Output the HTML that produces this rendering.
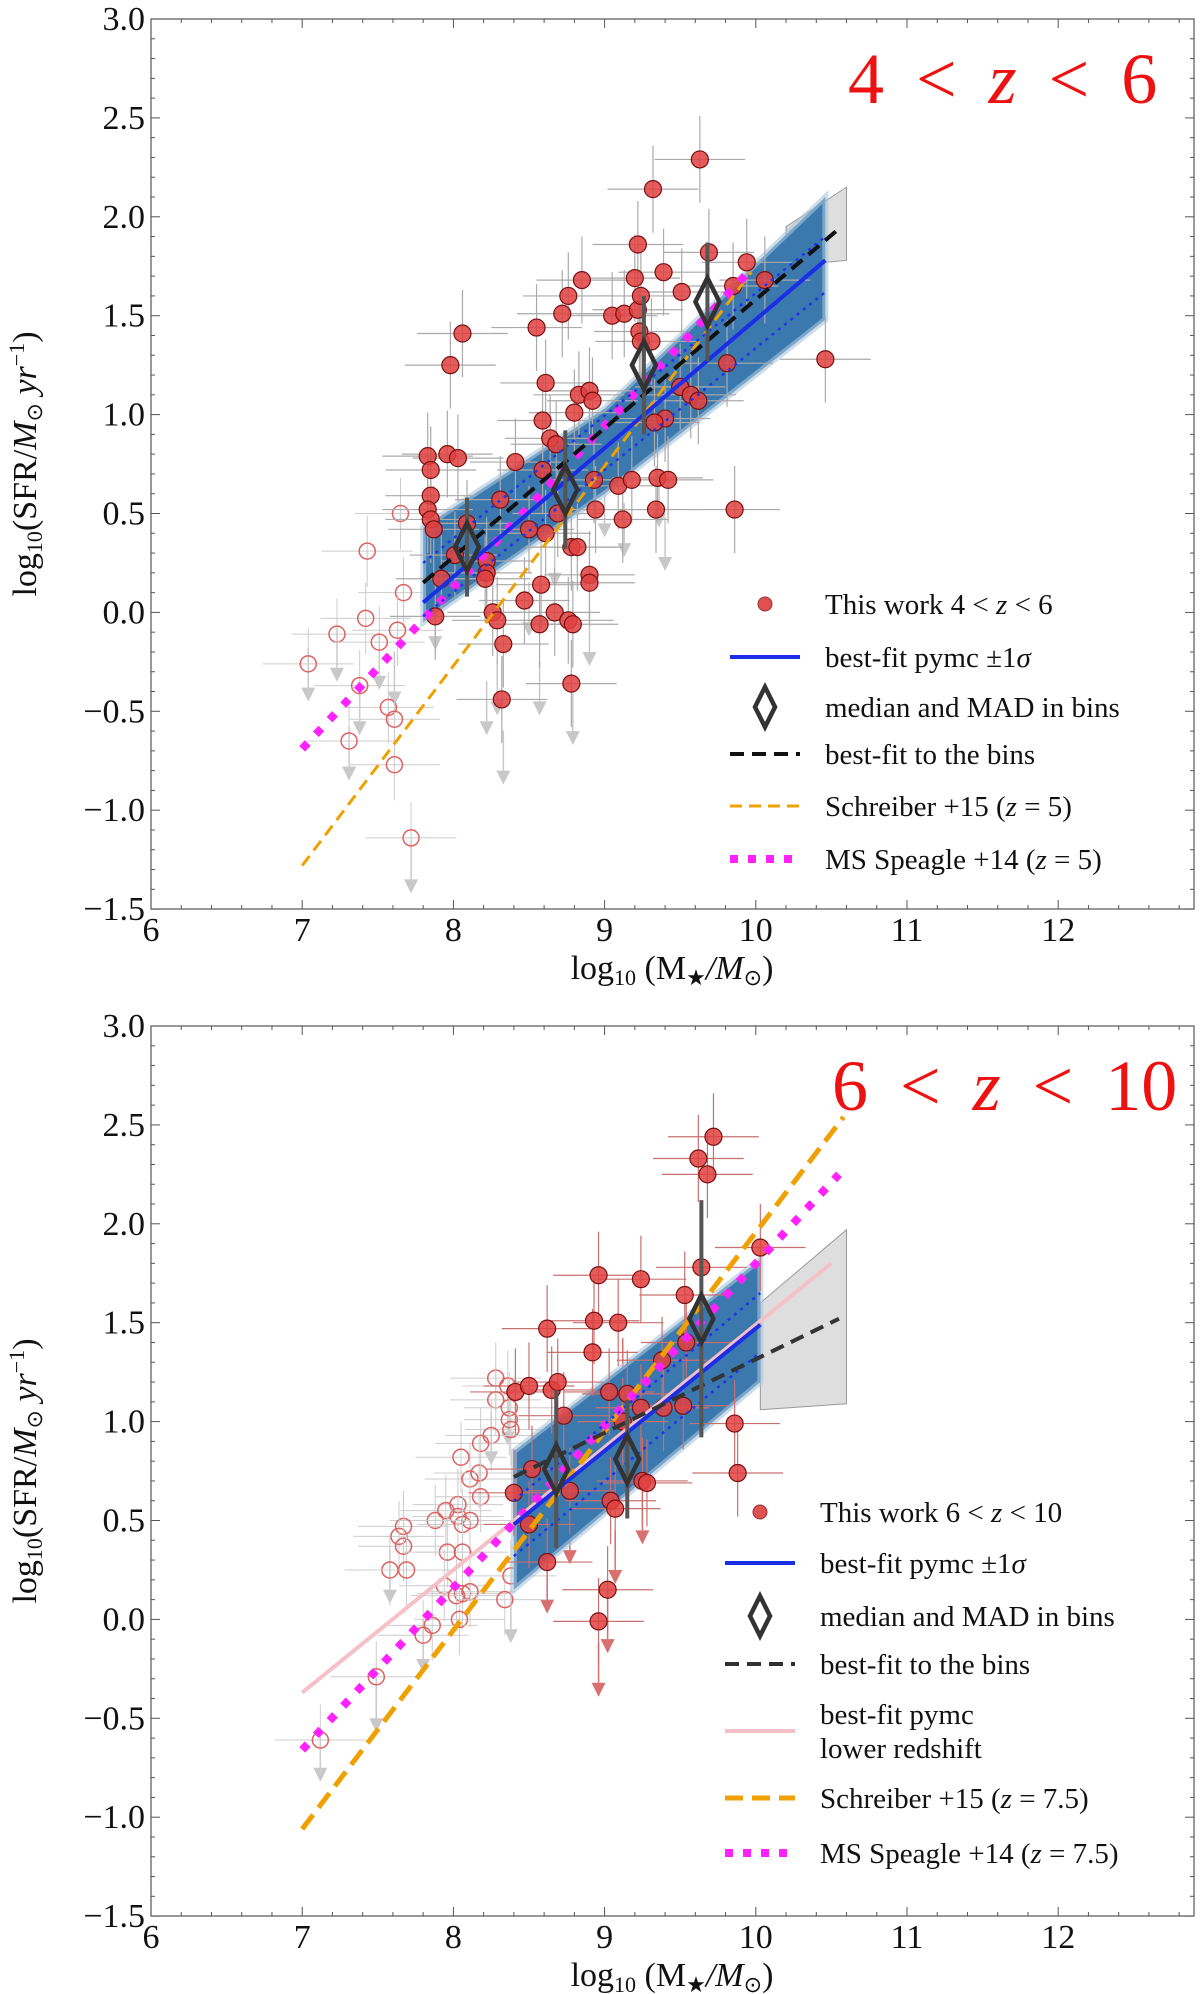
<!DOCTYPE html>
<html><head><meta charset="utf-8"><style>
body{margin:0;background:#fff;}
svg{display:block;font-family:"Liberation Serif",serif;}
</style></head><body>
<svg id="chart" width="1200" height="1994" viewBox="0 0 1200 1994" xmlns="http://www.w3.org/2000/svg"></svg>
<script>
// ---- Panel 1 data (4<z<6) ----
const p1RedX=[9.63,9.32,9.22,9.69,9.94,8.85,9.20,9.39,10.06,9.51,9.85,8.72,8.76,9.05,9.13,9.22,9.24,8.55,8.06,9.23,9.24,9.31,7.98,9.81,10.46,8.61,9.50,9.57,9.62,8.83,8.90,8.80,8.92,9.40,9.33,8.59,8.64,8.68,7.83,7.96,8.03,7.85,8.41,8.59,8.93,9.09,9.18,9.35,9.42,7.85,8.31,8.94,9.34,9.86,7.83,7.85,7.87,8.09,8.50,8.61,8.69,9.12,8.78,8.82,8.22,8.01,8.22,8.21,8.58,8.90,8.90,7.92,8.47,7.88,8.26,8.29,8.67,8.57,8.76,8.79,8.33,8.78,8.32];
const p1RedY=[2.29,2.14,1.86,1.82,1.77,1.68,1.69,1.72,1.68,1.62,1.65,1.51,1.60,1.50,1.51,1.53,1.60,1.44,1.41,1.42,1.37,1.37,1.25,1.26,1.28,1.16,1.14,1.10,1.07,1.10,1.12,1.01,1.07,0.98,0.96,0.97,0.88,0.85,0.79,0.80,0.78,0.72,0.76,0.72,0.67,0.64,0.67,0.68,0.67,0.59,0.57,0.52,0.52,0.52,0.52,0.47,0.42,0.45,0.42,0.40,0.50,0.47,0.33,0.33,0.26,0.29,0.20,0.17,0.14,0.19,0.15,0.17,0.06,-0.02,0.00,-0.04,0.00,-0.06,-0.04,-0.06,-0.16,-0.36,-0.44];
const p1OpenX=[7.65,7.43,7.67,7.23,7.42,7.51,7.63,7.04,7.38,7.57,7.61,7.31,7.61,7.72];
const p1OpenY=[0.50,0.31,0.10,-0.11,-0.03,-0.15,-0.09,-0.26,-0.37,-0.48,-0.54,-0.65,-0.77,-1.14];
const p1ArrX=[7.04,7.23,7.31,7.38,7.51,7.61,7.72,7.88,8.22,8.29,8.33,8.57,8.79,8.90,8.50,9.13,9.40,9.36,8.67,9.00];
const p1ArrY=[-0.38,-0.28,-0.78,-0.55,-0.32,-0.4,-1.35,-0.12,-0.55,-0.45,-0.8,-0.45,-0.6,-0.2,-0.05,0.35,0.28,0.5,0.2,0.45];
const p1DiaX=[8.09,8.74,9.26,9.68];
const p1DiaY=[0.33,0.62,1.25,1.57];
const p1DiaErr=[0.25,0.3,0.35,0.3];
// ---- Panel 2 data (6<z<10) ----
const p2RedX=[9.72,9.62,9.68,10.03,8.96,9.24,9.64,8.93,9.09,8.62,9.53,9.54,8.92,9.38,8.41,8.50,8.65,8.69,9.03,9.15,9.24,9.39,9.52,9.12,9.86,8.73,8.52,9.88,9.25,9.28,8.40,8.77,9.04,9.07,8.50,8.62,9.02,8.96];
const p2RedY=[2.44,2.33,2.25,1.88,1.74,1.72,1.78,1.51,1.50,1.47,1.64,1.40,1.35,1.31,1.15,1.18,1.16,1.20,1.15,1.14,1.07,1.07,1.08,1.00,0.99,1.03,0.76,0.74,0.70,0.69,0.64,0.65,0.60,0.56,0.48,0.29,0.15,-0.01];
const p2OpenX=[8.28,8.28,8.36,8.37,8.37,8.38,8.25,8.18,8.05,8.11,8.17,8.18,8.03,8.03,7.95,7.88,8.06,8.11,7.67,7.64,7.67,7.96,8.06,7.58,7.69,7.94,8.06,8.11,8.02,8.34,8.38,8.04,7.86,7.80,7.49,7.12];
const p2OpenY=[1.22,1.11,1.18,1.07,1.01,0.96,0.93,0.89,0.82,0.71,0.74,0.62,0.58,0.52,0.55,0.50,0.48,0.50,0.47,0.42,0.37,0.34,0.34,0.25,0.25,0.17,0.13,0.14,0.12,0.10,0.22,0.00,-0.03,-0.08,-0.29,-0.61];
const p2ArrX=[8.62,9.02,8.96,9.07,9.25,8.77,8.36,8.25,7.58,7.80,7.12,7.49,8.38,9.12];
const p2ArrY=[0.1,-0.1,-0.32,0.25,0.45,0.35,0.95,0.85,0.15,-0.2,-0.75,-0.5,-0.05,1.22];
const p2DiaX=[8.68,9.15,9.64];
const p2DiaY=[0.76,0.81,1.52];
const p2DiaErr=[0.4,0.3,0.6];
// tick labels
const xTicks=[6,7,8,9,10,11,12];
const yTicks=[3.0,2.5,2.0,1.5,1.0,0.5,0.0,-0.5,-1.0,-1.5];

const NS="http://www.w3.org/2000/svg";
const svg=document.getElementById('chart');
function el(t,a,p){const e=document.createElementNS(NS,t);for(const k in a)e.setAttribute(k,a[k]);(p||svg).appendChild(e);return e;}
function fmt(v){return (v<0?'\u2212':'')+Math.abs(v).toFixed(1);}

function panel(top,cfg){
  const L=151,R=1194,B=top+890;
  const px=x=>L+(x-6)*151.2, py=y=>top+(3-y)*197.8;
  const g=el('g',{});
  
  
  const fr=el('rect',{x:L,y:top,width:R-L,height:B-top,fill:'none',stroke:'#555','stroke-width':1.2},g);
  
  for(let x=6;x<=12.9;x+=0.2){const maj=Math.abs(x-Math.round(x))<0.01;const l=maj?9:4;
    el('line',{x1:px(x),x2:px(x),y1:B,y2:B-l,stroke:'#555'},g);el('line',{x1:px(x),x2:px(x),y1:top,y2:top+l,stroke:'#555'},g);}
  for(let y=-1.5;y<=3.001;y+=0.1){const maj=Math.abs(y*2-Math.round(y*2))<0.01;const l=maj?9:4;
    el('line',{x1:L,x2:L+l,y1:py(y),y2:py(y),stroke:'#555'},g);el('line',{x1:R,x2:R-l,y1:py(y),y2:py(y),stroke:'#555'},g);}
  xTicks.forEach(v=>{const t=el('text',{x:px(v),y:B+32,'font-size':34,'text-anchor':'middle',fill:'#111'},g);t.textContent=v;
    });
  yTicks.forEach(v=>{const t=el('text',{x:L-6,y:py(v)+11,'font-size':34,'text-anchor':'end',fill:'#111'},g);t.textContent=fmt(v);
    });
  const xt=el('text',{x:672,y:B+70,'font-size':34,'text-anchor':'middle',fill:'#111'},g);
  xt.innerHTML='log<tspan font-size="22" dy="6">10</tspan><tspan dy="-6"> (M</tspan><tspan font-size="22" dy="6">\u2605</tspan><tspan dy="-6" font-style="italic">/M</tspan><tspan font-size="22" dy="6">\u2299</tspan><tspan dy="-6">)</tspan>';
  
  const yt=el('text',{x:0,y:0,'font-size':34,'text-anchor':'middle',fill:'#111',transform:`translate(36,${(top+B)/2}) rotate(-90)`},g);
  yt.innerHTML='log<tspan font-size="22" dy="6">10</tspan><tspan dy="-6">(SFR/</tspan><tspan font-style="italic">M</tspan><tspan font-size="22" dy="6">\u2299</tspan><tspan dy="-6" font-style="italic"> yr</tspan><tspan font-size="22" dy="-12">\u22121</tspan><tspan dy="12">)</tspan>';
  
  const cid='clip'+top;const cp=el('clipPath',{id:cid},g);el('rect',{x:L,y:top,width:R-L,height:B-top},cp);
  const pg=el('g',{'clip-path':`url(#${cid})`},g);
  const gb=el('polygon',{points:cfg.grey.map(p=>px(p[0])+','+py(p[1])).join(' '),fill:'#c8c8c8','fill-opacity':0.6,stroke:'#999'},pg);
  
  cfg.arrX.forEach((x,i)=>{const y=cfg.arrY[i];const c=cfg.arrCol(x);
    el('line',{x1:px(x),x2:px(x),y1:py(y)-40,y2:py(y),stroke:c,'stroke-width':1.5},pg);
    const a=el('polygon',{points:`${px(x)-7},${py(y)} ${px(x)+7},${py(y)} ${px(x)},${py(y)+14}`,fill:c},pg);
    });
  cfg.openX.forEach((x,i)=>{const y=cfg.openY[i];
    el('line',{x1:px(x-0.3),x2:px(x+0.3),y1:py(y),y2:py(y),stroke:'#ccc'},pg);
    el('line',{x1:px(x),x2:px(x),y1:py(y-0.18),y2:py(y+0.18),stroke:'#ccc'},pg);
    const c=el('circle',{cx:px(x),cy:py(y),r:8,fill:'none',stroke:'#e06060','stroke-width':1.5},pg);
    });
  const band=el('polygon',{points:cfg.band.map(p=>px(p[0])+','+py(p[1])).join(' '),fill:'#3a78ad',stroke:'#a9c4dc','stroke-width':6,'stroke-opacity':0.6},pg);
  
  cfg.redX.forEach((x,i)=>{const y=cfg.redY[i];
    el('line',{x1:px(x-0.3),x2:px(x+0.3),y1:py(y),y2:py(y),stroke:cfg.errCol,'stroke-width':1.2},pg);
    el('line',{x1:px(x),x2:px(x),y1:py(y-0.22),y2:py(y+0.22),stroke:cfg.errCol,'stroke-width':1.2},pg);
  });
  cfg.redX.forEach((x,i)=>{const y=cfg.redY[i];
    const c=el('circle',{cx:px(x),cy:py(y),r:8.5,fill:'#e04040','fill-opacity':0.85,stroke:'#7a1010','stroke-width':1.2},pg);
    });
  cfg.lines.forEach(l=>{const e=el('line',{x1:px(l.p[0][0]),y1:py(l.p[0][1]),x2:px(l.p[1][0]),y2:py(l.p[1][1]),stroke:l.c,'stroke-width':l.w,'stroke-dasharray':l.d||'none'},pg);
    });
  cfg.diaX.forEach((x,i)=>{const y=cfg.diaY[i];const e=cfg.diaErr[i];
    el('line',{x1:px(x),x2:px(x),y1:py(y-e),y2:py(y+e),stroke:'#555','stroke-width':4},pg);
    const d=el('polygon',{points:`${px(x)},${py(y)-24} ${px(x)+12},${py(y)} ${px(x)},${py(y)+24} ${px(x)-12},${py(y)}`,fill:'none',stroke:'#333','stroke-width':4.5},pg);
    });
  const tt=el('text',{x:cfg.titleX,y:top+84,'font-size':72,'word-spacing':'14px',fill:'#ee1111','font-family':'Liberation Serif, serif'},g);
  tt.innerHTML=cfg.title;
  const lg=el('g',{},g);
  cfg.legend.forEach(it=>{
    const y=it.y, mx=cfg.legMx, tx=cfg.legTx;
    let m;
    if(it.t==='dot') m=el('circle',{cx:mx,cy:y,r:7,fill:'#e05050',stroke:'#933'},lg);
    else if(it.t==='dia') m=el('polygon',{points:`${mx},${y-20} ${mx+10},${y} ${mx},${y+20} ${mx-10},${y}`,fill:'none',stroke:'#333','stroke-width':4.5},lg);
    else m=el('line',{x1:mx-35,x2:mx+35,y1:y,y2:y,stroke:it.c,'stroke-width':it.w,'stroke-dasharray':it.d||'none'},lg);
    
    it.lab.forEach((s,k)=>{const t=el('text',{x:tx,y:y+10+k*34-(it.lab.length-1)*17,'font-size':29,fill:'#111'},lg);t.innerHTML=s;
      });
  });
}

panel(19,{name:'panel-4-z-6',redX:p1RedX,redY:p1RedY,openX:p1OpenX,openY:p1OpenY,arrX:p1ArrX,arrY:p1ArrY,
  arrCol:()=>'#c8c8c8',errCol:'#aaa',diaX:p1DiaX,diaY:p1DiaY,diaErr:p1DiaErr,
  band:[[7.8,-0.05],[9,0.6],[10.46,1.48],[10.46,2.1],[9,1.03],[7.8,0.43]],
  grey:[[10.2,1.75],[10.6,1.78],[10.6,2.15],[10.2,1.95]],
  lines:[
    {p:[[7,-1.28],[9.97,1.72]],c:'#f0a000',w:3,d:'12 7',n:'schreiber-line'},
    {p:[[7,-0.69],[9.95,1.72]],c:'#ff22ff',w:8,d:'8 12',n:'speagle-line'},
    {p:[[7.8,0.25],[10.46,1.9]],c:'#2233ee',w:2.5,d:'3 5',n:'upper-sigma-line'},
    {p:[[7.8,-0.02],[10.46,1.62]],c:'#2233ee',w:2.5,d:'3 5',n:'lower-sigma-line'},
    {p:[[7.8,0.05],[10.46,1.78]],c:'#1a2ee8',w:4,n:'pymc-best-fit-line'},
    {p:[[7.8,0.15],[10.55,1.94]],c:'#111',w:4,d:'14 8',n:'bins-best-fit-line'}],
  title:'4 &lt; <tspan font-style="italic">z</tspan> &lt; 6',titleX:848,legMx:765,legTx:825,
  legend:[{t:'dot',y:604,lab:['This work 4 &lt; <tspan font-style="italic">z</tspan> &lt; 6']},
    {t:'line',y:657,c:'#1a2ee8',w:4,lab:['best-fit pymc ±1<tspan font-style="italic">σ</tspan>']},
    {t:'dia',y:707,lab:['median and MAD in bins']},
    {t:'line',y:754,c:'#111',w:4,d:'14 8',lab:['best-fit to the bins']},
    {t:'line',y:806,c:'#f0a000',w:3,d:'12 7',lab:['Schreiber +15 (<tspan font-style="italic">z</tspan> = 5)']},
    {t:'line',y:859,c:'#ff22ff',w:8,d:'8 10',lab:['MS Speagle +14 (<tspan font-style="italic">z</tspan> = 5)']}]
});

panel(1026,{name:'panel-6-z-10',redX:p2RedX,redY:p2RedY,openX:p2OpenX,openY:p2OpenY,arrX:p2ArrX,arrY:p2ArrY,
  arrCol:x=>x>8.45?'#d87070':'#c8c8c8',errCol:'#c87070',diaX:p2DiaX,diaY:p2DiaY,diaErr:p2DiaErr,
  band:[[8.4,0.15],[10.03,1.2],[10.03,1.82],[8.4,0.85]],
  grey:[[10.03,1.06],[10.6,1.09],[10.6,1.97],[10.03,1.6]],
  lines:[
    {p:[[7,-0.37],[10.5,1.8]],c:'#f5c0c8',w:4,n:'lower-redshift-fit-line'},
    {p:[[7,-1.06],[10.58,2.54]],c:'#f0a000',w:5,d:'18 9',n:'schreiber-line'},
    {p:[[7,-0.66],[10.55,2.25]],c:'#ff22ff',w:8,d:'8 12',n:'speagle-line'},
    {p:[[8.4,0.6],[10.03,1.65]],c:'#2233ee',w:2.5,d:'3 5',n:'upper-sigma-line'},
    {p:[[8.4,0.32],[10.03,1.35]],c:'#2233ee',w:2.5,d:'3 5',n:'lower-sigma-line'},
    {p:[[8.4,0.48],[10.03,1.49]],c:'#1a2ee8',w:4,n:'pymc-best-fit-line'},
    {p:[[8.4,0.72],[10.55,1.52]],c:'#333',w:4,d:'14 8',n:'bins-best-fit-line'}],
  title:'6 &lt; <tspan font-style="italic">z</tspan> &lt; 10',titleX:832,legMx:760,legTx:820,
  legend:[{t:'dot',y:1512,lab:['This work 6 &lt; <tspan font-style="italic">z</tspan> &lt; 10']},
    {t:'line',y:1563,c:'#1a2ee8',w:4,lab:['best-fit pymc ±1<tspan font-style="italic">σ</tspan>']},
    {t:'dia',y:1616,lab:['median and MAD in bins']},
    {t:'line',y:1664,c:'#333',w:4,d:'14 8',lab:['best-fit to the bins']},
    {t:'line',y:1731,c:'#f5c0c8',w:4,lab:['best-fit pymc','lower redshift']},
    {t:'line',y:1798,c:'#f0a000',w:5,d:'18 9',lab:['Schreiber +15 (<tspan font-style="italic">z</tspan> = 7.5)']},
    {t:'line',y:1853,c:'#ff22ff',w:8,d:'8 10',lab:['MS Speagle +14 (<tspan font-style="italic">z</tspan> = 7.5)']}]
});
</script>
</body></html>
